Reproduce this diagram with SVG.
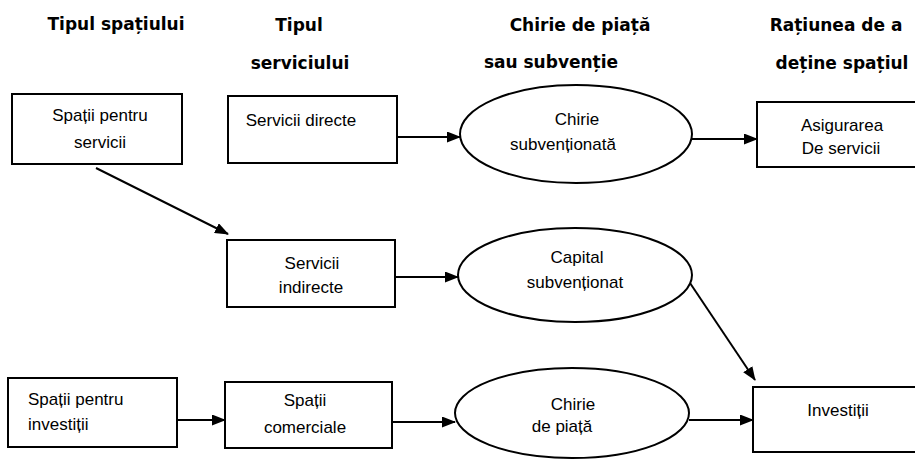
<svg xmlns="http://www.w3.org/2000/svg" width="915" height="460" viewBox="0 0 915 460">
<defs>
<style>
.bg{fill:#fff}
.box{fill:#fff;stroke:#000;stroke-width:2}
.ell{fill:#fff;stroke:#000;stroke-width:2}
.hd{font-family:"DejaVu Sans","Liberation Sans",sans-serif;font-weight:bold;font-size:17px;fill:#000;text-anchor:middle}
.t{font-family:"Liberation Sans",Arial,sans-serif;font-size:17px;fill:#000;text-anchor:middle}
.tl{font-family:"Liberation Sans",Arial,sans-serif;font-size:17px;fill:#000}
.c{stroke:#000;stroke-width:2;fill:none;marker-end:url(#ah)}
</style>
<marker id="ah" markerWidth="14" markerHeight="11" refX="13" refY="5.5" orient="auto" markerUnits="userSpaceOnUse">
<path d="M0,0 L14,5.5 L0,11 Z" fill="#000"/>
</marker>
</defs>
<rect class="bg" x="0" y="0" width="915" height="460"/>

<g id="headers">
<text class="hd" x="116" y="30">Tipul spațiului</text>
<text class="hd" x="299" y="31">Tipul</text>
<text class="hd" x="300" y="69">serviciului</text>
<text class="hd" x="580" y="31">Chirie de piață</text>
<text class="hd" x="551" y="68">sau subvenție</text>
<text class="hd" x="836" y="31">Rațiunea de a</text>
<text class="hd" x="842" y="69">deține spațiul</text>
</g>

<g id="n-spatii-servicii">
<rect class="box" x="12" y="94" width="170" height="70"/>
<text class="t" x="100" y="121">Spații pentru</text>
<text class="t" x="100" y="148">servicii</text>
</g>

<g id="n-servicii-directe">
<rect class="box" x="228" y="96" width="169" height="67"/>
<text class="t" x="301" y="126">Servicii directe</text>
</g>

<g id="n-chirie-subv">
<ellipse class="ell" cx="576" cy="134" rx="116" ry="49"/>
<text class="t" x="577" y="125">Chirie</text>
<text class="t" x="563" y="150">subvenționată</text>
</g>

<g id="n-asigurarea">
<rect class="box" x="757" y="102" width="170" height="65"/>
<text class="t" x="842" y="131">Asigurarea</text>
<text class="t" x="841" y="154">De servicii</text>
</g>

<g id="n-servicii-indirecte">
<rect class="box" x="227" y="240" width="168" height="67"/>
<text class="t" x="312" y="269">Servicii</text>
<text class="t" x="311" y="293">indirecte</text>
</g>

<g id="n-capital">
<ellipse class="ell" cx="575" cy="275" rx="117" ry="47"/>
<text class="t" x="577" y="263">Capital</text>
<text class="t" x="575" y="288">subvenționat</text>
</g>

<g id="n-spatii-investitii">
<rect class="box" x="8" y="378" width="169" height="69"/>
<text class="tl" x="28" y="405">Spații pentru</text>
<text class="tl" x="28" y="430">investiții</text>
</g>

<g id="n-spatii-comerciale">
<rect class="box" x="225" y="382" width="167" height="66"/>
<text class="t" x="305" y="406">Spații</text>
<text class="t" x="305" y="433">comerciale</text>
</g>

<g id="n-chirie-piata">
<ellipse class="ell" cx="572" cy="413" rx="117" ry="45"/>
<text class="t" x="573" y="410">Chirie</text>
<text class="t" x="562" y="432">de piață</text>
</g>

<g id="n-investitii">
<rect class="box" x="753" y="387" width="175" height="65"/>
<text class="t" x="838" y="416">Investiții</text>
</g>

<g id="connectors">
<line class="c" x1="96" y1="168" x2="228" y2="234"/>
<line class="c" x1="397" y1="137" x2="460" y2="137"/>
<line class="c" x1="692" y1="139" x2="757" y2="139"/>
<line class="c" x1="395" y1="277" x2="458" y2="277"/>
<line class="c" x1="690" y1="283" x2="755" y2="380"/>
<line class="c" x1="177" y1="420" x2="225" y2="420"/>
<line class="c" x1="392" y1="422" x2="455" y2="422"/>
<line class="c" x1="689" y1="420" x2="753" y2="420"/>
</g>
</svg>
